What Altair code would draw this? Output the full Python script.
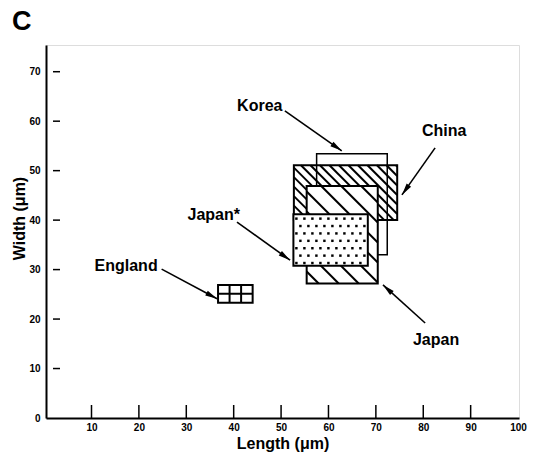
import math
import altair as alt
import pandas as pd

# ---------------- data ----------------
regions = ["China", "Korea", "Japan", "Japan*", "England"]
len_min = [52.7, 57.5, 55.4, 52.6, 36.7]   # Length (um) lower bound
len_max = [74.5, 72.4, 70.4, 68.3, 44.0]   # Length (um) upper bound
wid_min = [40.0, 33.0, 27.2, 30.8, 23.3]   # Width (um) lower bound
wid_max = [51.1, 53.4, 46.9, 41.2, 26.9]   # Width (um) upper bound

label_text = ["Korea", "China", "Japan*", "Japan", "England"]
label_x = [45.5, 84.4, 35.8, 82.7, 17.3]
label_y = [63.1, 58.0, 41.0, 15.8, 30.7]
arrow_x0 = [50.8, 82.5, 40.7, 80.4, 24.8]
arrow_y0 = [62.1, 54.6, 39.6, 19.2, 30.1]
arrow_x1 = [62.8, 75.5, 51.9, 71.5, 36.5]
arrow_y1 = [54.0, 45.1, 31.9, 26.9, 24.1]

x_ticks = [10, 20, 30, 40, 50, 60, 70, 80, 90, 100]
y_ticks = [0, 10, 20, 30, 40, 50, 60, 70]
panel_label = ["C"]

# ---------------- layout / style ----------------
W, H = 473, 373
XD = [0.4, 100.2]
YD = [0.0, 75.4]
SX = W / (XD[1] - XD[0])
SY = H / (YD[1] - YD[0])
FONT = "Liberation Sans"

XS = alt.Scale(domain=XD, nice=False, zero=False)
YS = alt.Scale(domain=YD, nice=False, zero=False)
XA = alt.Axis(values=x_ticks, ticks=False, grid=False, domainWidth=2, domainColor="black",
              labelFont=FONT, labelFontWeight="bold", labelFontSize=10, labelColor="black",
              labelPadding=4, labelFlush=False, title="Length (\u03bcm)", titleFont=FONT,
              titleFontSize=16, titleFontWeight="bold", titleColor="black", titleY=30,
              titleBaseline="alphabetic")
YA = alt.Axis(values=y_ticks, ticks=False, grid=False, domainWidth=2, domainColor="black",
              labelFont=FONT, labelFontWeight="bold", labelFontSize=10, labelColor="black",
              labelPadding=6, labelFlush=False, title="Width (\u03bcm)", titleFont=FONT,
              titleFontSize=16, titleFontWeight="bold", titleColor="black", titleX=-22,
              titleY=173, titleAngle=270, titleBaseline="alphabetic", titleAlign="center")


def X(f):
    return alt.X(f, type="quantitative", scale=XS, axis=XA)


def Y(f):
    return alt.Y(f, type="quantitative", scale=YS, axis=YA)


rects = pd.DataFrame({"region": regions, "x1": len_min, "x2": len_max,
                      "y1": wid_min, "y2": wid_max})


def rect_layer(name, fill, sw):
    d = rects[rects.region == name]
    kw = dict(stroke="black", strokeWidth=sw)
    if fill is None:
        kw["fillOpacity"] = 0
        kw["fill"] = "white"
    else:
        kw["fill"] = fill
    return alt.Chart(d).mark_rect(**kw).encode(x=X("x1"), x2="x2", y=Y("y1"), y2="y2")


def hatch_layer(name, spacing, offset, sw):
    r = rects[rects.region == name].iloc[0]
    x1, x2, y1, y2 = r.x1, r.x2, r.y1, r.y2
    umin = x1 * SX + y1 * SY
    umax = x2 * SX + y2 * SY
    segs = []
    c = umin + offset
    while c < umax:
        lo = max(x1, (c - y2 * SY) / SX)
        hi = min(x2, (c - y1 * SY) / SX)
        if hi > lo:
            segs.append({"a": lo, "b": (c - lo * SX) / SY, "a2": hi, "b2": (c - hi * SX) / SY})
        c += spacing
    d = pd.DataFrame(segs)
    return alt.Chart(d).mark_rule(color="black", strokeWidth=sw).encode(
        x=X("a"), y=Y("b"), x2="a2", y2="b2")


def dots_layer(name, dxp, dyp):
    r = rects[rects.region == name].iloc[0]
    pts = []
    row = 0
    yy = r.y2 - (dyp * 0.6) / SY
    while yy > r.y1 + 1.0 / SY:
        xx = r.x1 + ((3 if row % 2 == 0 else 7) / SX)
        while xx < r.x2 - 1.0 / SX:
            pts.append({"a": xx, "b": yy})
            xx += dxp / SX
        yy -= dyp / SY
        row += 1
    d = pd.DataFrame(pts)
    return alt.Chart(d).mark_square(color="black", size=6, opacity=1).encode(x=X("a"), y=Y("b"))


def grid_layer(name, ncol, nrow):
    r = rects[rects.region == name].iloc[0]
    segs = []
    for k in range(1, ncol):
        xv = r.x1 + (r.x2 - r.x1) * k / ncol
        segs.append({"a": xv, "b": r.y1, "a2": xv, "b2": r.y2})
    for k in range(1, nrow):
        yv = r.y1 + (r.y2 - r.y1) * k / nrow
        segs.append({"a": r.x1, "b": yv, "a2": r.x2, "b2": yv})
    d = pd.DataFrame(segs)
    return alt.Chart(d).mark_rule(color="black", strokeWidth=2).encode(
        x=X("a"), y=Y("b"), x2="a2", y2="b2")


arrows = pd.DataFrame({"x0": arrow_x0, "y0": arrow_y0, "x1": arrow_x1, "y1": arrow_y1})
arrows["ang"] = [
    (math.degrees(math.atan2((b - a) * SX, (d - c) * SY)) + 360) % 360
    for a, b, c, d in zip(arrow_x0, arrow_x1, arrow_y0, arrow_y1)
]

arrow_lines = alt.Chart(arrows).mark_rule(color="black", strokeWidth=1.6).encode(
    x=X("x0"), y=Y("y0"), x2="x1", y2="y1")
arrow_heads = alt.Chart(arrows).mark_point(
    shape="M0,0L-0.45,2L0.45,2Z", filled=True, color="black", opacity=1, size=144
).encode(x=X("x1"), y=Y("y1"), angle=alt.Angle("ang:Q", scale=None))

labels = alt.Chart(pd.DataFrame({"t": label_text, "x": label_x, "y": label_y})).mark_text(
    font=FONT, fontWeight="bold", fontSize=16, color="black", align="center", baseline="middle"
).encode(x=X("x"), y=Y("y"), text="t:N")

panel = alt.Chart(pd.DataFrame({"t": panel_label})).mark_text(
    font=FONT, fontWeight="bold", fontSize=27, color="black", align="left", baseline="alphabetic"
).encode(x=alt.value(-34), y=alt.value(-15), text="t:N")

xtick = alt.Chart(pd.DataFrame({"v": x_ticks[:-1]})).mark_rule(color="black", strokeWidth=1.5).encode(
    x=X("v"), y=alt.value(H), y2=alt.value(H - 13))
ytick = alt.Chart(pd.DataFrame({"v": y_ticks[1:]})).mark_rule(color="black", strokeWidth=1.5).encode(
    y=Y("v"), x=alt.value(7), x2=alt.value(14))

chart = alt.layer(
    rect_layer("China", "white", 2),
    hatch_layer("China", 9.5, 5, 2),
    rect_layer("Korea", None, 1.5),
    rect_layer("Japan", "white", 2),
    hatch_layer("Japan", 20, 12, 2),
    rect_layer("Japan*", "white", 2),
    dots_layer("Japan*", 8, 7.4),
    rect_layer("England", "white", 2),
    grid_layer("England", 3, 2),
    arrow_lines,
    arrow_heads,
    labels,
    panel,
    xtick,
    ytick,
).properties(
    width=W, height=H,
    autosize=alt.AutoSizeParams(type="none"),
    padding={"left": 38, "top": 37, "right": 23, "bottom": 34},
).configure_view(stroke="black", strokeWidth=1.5).configure(background="white")

chart.save("out.html", embed_options={"renderer": "svg", "actions": False})
